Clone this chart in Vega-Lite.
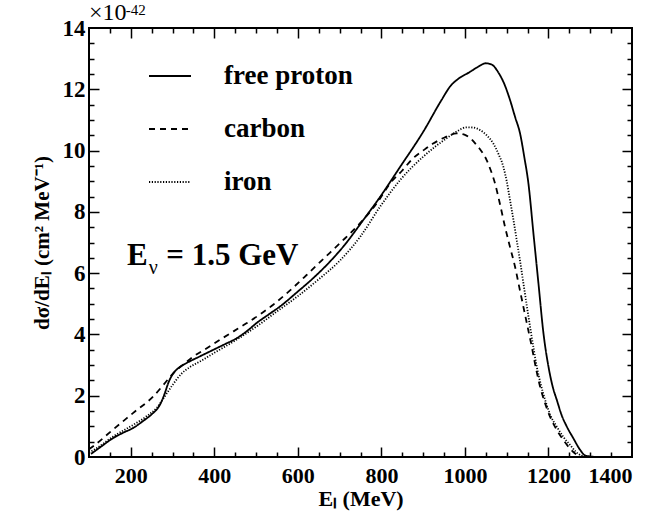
{
  "$schema": "https://vega.github.io/schema/vega-lite/v6.json",
  "width": 543,
  "height": 429,
  "autosize": {"type": "none"},
  "padding": {"left": 89, "top": 28, "right": 25, "bottom": 57},
  "background": "white",
  "config": {
    "view": {"stroke": "black", "strokeWidth": 2},
    "axis": {"domain": false, "grid": false, "tickColor": "black", "labelColor": "black", "titleColor": "black", "labelFont": "Liberation Serif", "titleFont": "Liberation Serif", "labelFontWeight": "bold", "titleFontWeight": "bold", "tickWidth": 1.5}
  },
  "data": {"values": [
    {"series":"free proton","E":105,"v":0.1},{"series":"free proton","E":130,"v":0.35},{"series":"free proton","E":158,"v":0.62},{"series":"free proton","E":180,"v":0.78},{"series":"free proton","E":206,"v":0.95},{"series":"free proton","E":230,"v":1.18},{"series":"free proton","E":254,"v":1.44},{"series":"free proton","E":265,"v":1.6},{"series":"free proton","E":274,"v":1.82},{"series":"free proton","E":282,"v":2.1},{"series":"free proton","E":290,"v":2.42},{"series":"free proton","E":298,"v":2.65},{"series":"free proton","E":306,"v":2.8},{"series":"free proton","E":320,"v":2.96},{"series":"free proton","E":334,"v":3.07},{"series":"free proton","E":365,"v":3.28},{"series":"free proton","E":398,"v":3.5},{"series":"free proton","E":425,"v":3.68},{"series":"free proton","E":454,"v":3.88},{"series":"free proton","E":480,"v":4.13},{"series":"free proton","E":501,"v":4.37},{"series":"free proton","E":530,"v":4.65},{"series":"free proton","E":557,"v":4.91},{"series":"free proton","E":600,"v":5.4},{"series":"free proton","E":637,"v":5.84},{"series":"free proton","E":675,"v":6.35},{"series":"free proton","E":709,"v":6.87},{"series":"free proton","E":757,"v":7.74},{"series":"free proton","E":797,"v":8.49},{"series":"free proton","E":845,"v":9.47},{"series":"free proton","E":900,"v":10.61},{"series":"free proton","E":944,"v":11.65},{"series":"free proton","E":965,"v":12.1},{"series":"free proton","E":985,"v":12.35},{"series":"free proton","E":1010,"v":12.55},{"series":"free proton","E":1030,"v":12.72},{"series":"free proton","E":1050,"v":12.85},{"series":"free proton","E":1065,"v":12.8},{"series":"free proton","E":1080,"v":12.55},{"series":"free proton","E":1095,"v":12.15},{"series":"free proton","E":1108,"v":11.65},{"series":"free proton","E":1120,"v":11.1},{"series":"free proton","E":1132,"v":10.56},{"series":"free proton","E":1142,"v":9.8},{"series":"free proton","E":1152,"v":8.93},{"series":"free proton","E":1164,"v":7.3},{"series":"free proton","E":1176,"v":5.67},{"series":"free proton","E":1188,"v":4.04},{"series":"free proton","E":1200,"v":2.95},{"series":"free proton","E":1210,"v":2.3},{"series":"free proton","E":1220,"v":1.86},{"series":"free proton","E":1232,"v":1.35},{"series":"free proton","E":1244,"v":0.99},{"series":"free proton","E":1260,"v":0.6},{"series":"free proton","E":1275,"v":0.25},{"series":"free proton","E":1288,"v":0.05},{"series":"free proton","E":1300,"v":0.02},{"series":"free proton","E":1320,"v":0.0},
    {"series":"carbon","E":100,"v":0.25},{"series":"carbon","E":110,"v":0.35},{"series":"carbon","E":158,"v":0.9},{"series":"carbon","E":206,"v":1.44},{"series":"carbon","E":254,"v":1.98},{"series":"carbon","E":278,"v":2.35},{"series":"carbon","E":302,"v":2.74},{"series":"carbon","E":326,"v":3.02},{"series":"carbon","E":350,"v":3.28},{"series":"carbon","E":382,"v":3.55},{"series":"carbon","E":414,"v":3.83},{"series":"carbon","E":446,"v":4.1},{"series":"carbon","E":478,"v":4.37},{"series":"carbon","E":510,"v":4.66},{"series":"carbon","E":541,"v":4.97},{"series":"carbon","E":580,"v":5.42},{"series":"carbon","E":621,"v":5.94},{"series":"carbon","E":660,"v":6.45},{"series":"carbon","E":701,"v":6.98},{"series":"carbon","E":749,"v":7.63},{"series":"carbon","E":790,"v":8.3},{"series":"carbon","E":821,"v":8.93},{"series":"carbon","E":850,"v":9.35},{"series":"carbon","E":876,"v":9.75},{"series":"carbon","E":900,"v":10.0},{"series":"carbon","E":924,"v":10.23},{"series":"carbon","E":950,"v":10.42},{"series":"carbon","E":980,"v":10.56},{"series":"carbon","E":1000,"v":10.51},{"series":"carbon","E":1015,"v":10.38},{"series":"carbon","E":1028,"v":10.18},{"series":"carbon","E":1040,"v":9.97},{"series":"carbon","E":1052,"v":9.69},{"series":"carbon","E":1062,"v":9.35},{"series":"carbon","E":1072,"v":8.93},{"series":"carbon","E":1084,"v":8.25},{"series":"carbon","E":1096,"v":7.51},{"series":"carbon","E":1108,"v":6.85},{"series":"carbon","E":1120,"v":6.21},{"series":"carbon","E":1130,"v":5.55},{"series":"carbon","E":1140,"v":4.9},{"series":"carbon","E":1150,"v":4.25},{"series":"carbon","E":1160,"v":3.6},{"series":"carbon","E":1170,"v":2.9},{"series":"carbon","E":1180,"v":2.29},{"series":"carbon","E":1192,"v":1.75},{"series":"carbon","E":1204,"v":1.31},{"series":"carbon","E":1220,"v":0.88},{"series":"carbon","E":1236,"v":0.55},{"series":"carbon","E":1250,"v":0.3},{"series":"carbon","E":1263,"v":0.12},{"series":"carbon","E":1275,"v":0.03},{"series":"carbon","E":1290,"v":0.0},
    {"series":"iron","E":100,"v":0.15},{"series":"iron","E":114,"v":0.25},{"series":"iron","E":158,"v":0.67},{"series":"iron","E":206,"v":1.05},{"series":"iron","E":240,"v":1.35},{"series":"iron","E":262,"v":1.6},{"series":"iron","E":280,"v":1.95},{"series":"iron","E":300,"v":2.35},{"series":"iron","E":320,"v":2.7},{"series":"iron","E":340,"v":2.92},{"series":"iron","E":370,"v":3.15},{"series":"iron","E":400,"v":3.4},{"series":"iron","E":450,"v":3.8},{"series":"iron","E":500,"v":4.25},{"series":"iron","E":550,"v":4.75},{"series":"iron","E":600,"v":5.25},{"series":"iron","E":650,"v":5.8},{"series":"iron","E":700,"v":6.4},{"series":"iron","E":750,"v":7.2},{"series":"iron","E":797,"v":8.17},{"series":"iron","E":845,"v":9.04},{"series":"iron","E":900,"v":9.8},{"series":"iron","E":956,"v":10.4},{"series":"iron","E":980,"v":10.62},{"series":"iron","E":1004,"v":10.76},{"series":"iron","E":1020,"v":10.75},{"series":"iron","E":1036,"v":10.67},{"series":"iron","E":1052,"v":10.5},{"series":"iron","E":1068,"v":10.23},{"series":"iron","E":1080,"v":9.9},{"series":"iron","E":1092,"v":9.47},{"series":"iron","E":1100,"v":9.0},{"series":"iron","E":1108,"v":8.38},{"series":"iron","E":1116,"v":7.75},{"series":"iron","E":1124,"v":7.08},{"series":"iron","E":1132,"v":6.4},{"series":"iron","E":1140,"v":5.67},{"series":"iron","E":1148,"v":4.95},{"series":"iron","E":1156,"v":4.25},{"series":"iron","E":1164,"v":3.58},{"series":"iron","E":1172,"v":2.95},{"series":"iron","E":1182,"v":2.35},{"series":"iron","E":1192,"v":1.86},{"series":"iron","E":1205,"v":1.35},{"series":"iron","E":1220,"v":0.99},{"series":"iron","E":1236,"v":0.65},{"series":"iron","E":1252,"v":0.39},{"series":"iron","E":1265,"v":0.18},{"series":"iron","E":1278,"v":0.05},{"series":"iron","E":1295,"v":0.0}
  ]},
  "resolve": {"axis": {"x": "independent", "y": "independent"}},
  "layer": [
    {
      "mark": {"type": "line", "color": "black", "strokeWidth": 1.8, "interpolate": "monotone"},
      "encoding": {
        "x": {"field": "E", "type": "quantitative", "scale": {"domain": [100, 1400], "nice": false, "zero": false},
              "axis": {"orient": "bottom", "values": [200,400,600,800,1000,1200,1400], "format": "d", "ticks": false, "labelFontSize": 22, "labelPadding": 8, "title": "Eₗ  (MeV)", "titleFontSize": 22, "titlePadding": 2}},
        "y": {"field": "v", "type": "quantitative", "scale": {"domain": [0, 14], "nice": false, "zero": false},
              "axis": {"orient": "left", "values": [0,2,4,6,8,10,12,14], "ticks": false, "labelFontSize": 23, "labelPadding": 4, "title": "dσ/dEₗ  (cm² MeV⁻¹)", "titleFontSize": 21, "titlePadding": 10}},
        "strokeDash": {"field": "series", "type": "nominal",
          "scale": {"domain": ["free proton", "carbon", "iron"], "range": [[1, 0], [6, 5], [1.2, 1.6]]},
          "legend": {"orient": "none", "legendX": 59, "legendY": 26, "title": null, "symbolType": "stroke", "symbolSize": 1764, "symbolStrokeWidth": 2, "symbolStrokeColor": "black", "labelFont": "Liberation Serif", "labelFontWeight": "bold", "labelFontSize": 27, "labelColor": "black", "labelOffset": 32, "rowPadding": 18, "padding": 0}}
      }
    },
    {
      "mark": {"type": "point", "opacity": 0},
      "encoding": {
        "x": {"field": "E", "type": "quantitative", "axis": {"orient": "bottom", "values": [200,400,600,800,1000,1200], "labels": false, "tickSize": -10, "title": null}},
        "y": {"field": "v", "type": "quantitative", "axis": {"orient": "left", "values": [2,4,6,8,10,12], "labels": false, "tickSize": -10, "title": null}}
      }
    },
    {
      "mark": {"type": "point", "opacity": 0},
      "encoding": {
        "x": {"field": "E", "type": "quantitative", "axis": {"orient": "bottom", "values": [150,250,300,350,450,500,550,650,700,750,850,900,950,1050,1100,1150,1250,1300,1350], "labels": false, "tickSize": -5, "title": null}},
        "y": {"field": "v", "type": "quantitative", "axis": {"orient": "left", "values": [0.5,1,1.5,2.5,3,3.5,4.5,5,5.5,6.5,7,7.5,8.5,9,9.5,10.5,11,11.5,12.5,13,13.5], "labels": false, "tickSize": -5, "title": null}}
      }
    },
    {
      "mark": {"type": "point", "opacity": 0},
      "encoding": {
        "x": {"field": "E", "type": "quantitative", "axis": {"orient": "top", "values": [200,400,600,800,1000,1200], "labels": false, "tickSize": -10, "title": null}},
        "y": {"field": "v", "type": "quantitative", "axis": {"orient": "right", "values": [2,4,6,8,10,12], "labels": false, "tickSize": -10, "title": null}}
      }
    },
    {
      "mark": {"type": "point", "opacity": 0},
      "encoding": {
        "x": {"field": "E", "type": "quantitative", "axis": {"orient": "top", "values": [150,250,300,350,450,500,550,650,700,750,850,900,950,1050,1100,1150,1250,1300,1350], "labels": false, "tickSize": -5, "title": null}},
        "y": {"field": "v", "type": "quantitative", "axis": {"orient": "right", "values": [0.5,1,1.5,2.5,3,3.5,4.5,5,5.5,6.5,7,7.5,8.5,9,9.5,10.5,11,11.5,12.5,13,13.5], "labels": false, "tickSize": -5, "title": null}}
      }
    },
    {
      "data": {"values": [{}]},
      "mark": {"type": "text", "text": "×10", "font": "Liberation Serif", "fontWeight": "normal", "fontSize": 24, "align": "left", "baseline": "alphabetic", "color": "black"},
      "encoding": {"x": {"datum": 100, "type": "quantitative", "axis": null}, "y": {"datum": 14.27, "type": "quantitative", "axis": null}}
    },
    {
      "data": {"values": [{}]},
      "mark": {"type": "text", "text": "-42", "font": "Liberation Serif", "fontWeight": "normal", "fontSize": 15, "align": "left", "baseline": "alphabetic", "color": "black"},
      "encoding": {"x": {"datum": 188, "type": "quantitative", "axis": null}, "y": {"datum": 14.42, "type": "quantitative", "axis": null}}
    },
    {
      "data": {"values": [{}]},
      "mark": {"type": "text", "text": "E", "font": "Liberation Serif", "fontWeight": "bold", "fontSize": 31, "align": "left", "baseline": "alphabetic", "color": "black"},
      "encoding": {"x": {"datum": 191, "type": "quantitative", "axis": null}, "y": {"datum": 6.25, "type": "quantitative", "axis": null}}
    },
    {
      "data": {"values": [{}]},
      "mark": {"type": "text", "text": "ν", "font": "Liberation Serif", "fontWeight": "normal", "fontSize": 20, "align": "left", "baseline": "alphabetic", "color": "black"},
      "encoding": {"x": {"datum": 243, "type": "quantitative", "axis": null}, "y": {"datum": 5.98, "type": "quantitative", "axis": null}}
    },
    {
      "data": {"values": [{}]},
      "mark": {"type": "text", "text": "= 1.5 GeV", "font": "Liberation Serif", "fontWeight": "bold", "fontSize": 31, "align": "left", "baseline": "alphabetic", "color": "black"},
      "encoding": {"x": {"datum": 285, "type": "quantitative", "axis": null}, "y": {"datum": 6.25, "type": "quantitative", "axis": null}}
    }
  ]
}
